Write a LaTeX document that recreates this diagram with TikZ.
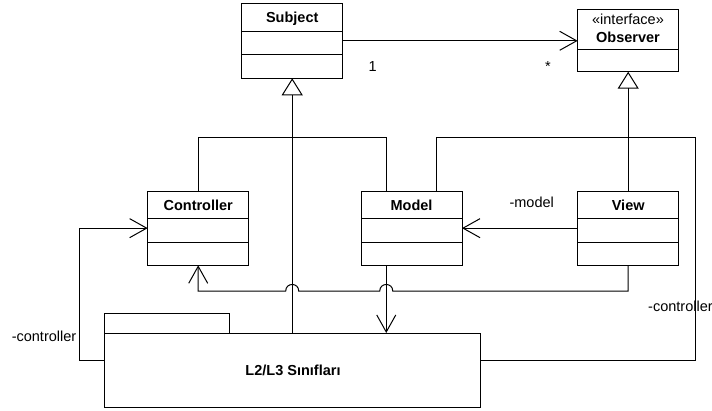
\documentclass[tikz,border=0pt]{standalone}
\usepackage{fontspec}
\setmainfont{Liberation Sans}
\usetikzlibrary{arrows.meta,calc}
\begin{document}
\begin{tikzpicture}[x=1pt,y=-1pt,line width=1pt,
  box/.style={draw,minimum width=101pt,inner sep=0pt,outer sep=0pt},
  lbl/.style={font=\fontsize{14.5}{17}\selectfont,inner sep=0pt,anchor=base},
  ttl/.style={font=\bfseries\fontsize{14.5}{17}\selectfont,inner sep=0pt,anchor=base},
  nav/.style={-{Straight Barb[length=17pt,width=19pt]}},
  inh/.style={-{Triangle[open,length=17pt,width=21pt]}},
]
\useasboundingbox (0,0) rectangle (712,410);
% classes
\node[box,minimum height=75pt] (subj) at (292.2,40.8) {};
\draw (subj.west |- 0,31) -- (subj.east |- 0,31);
\draw (subj.west |- 0,54) -- (subj.east |- 0,54);
\node[ttl] (subjT) at (292.2,22.7) {Subject};

\node[box,minimum height=62.7pt,minimum width=100.6pt] (obs) at (628,40.35) {};
\draw (obs.west |- 0,49) -- (obs.east |- 0,49);
\node[lbl] (obsS) at (628,24) {«interface»};
\node[ttl] (obsT) at (628,42.7) {Observer};

\node[box,minimum height=74.3pt] (ctrl) at (198.2,228.15) {};
\node[box,minimum height=74.3pt] (mdl) at (411.5,228.15) {};
\node[box,minimum height=74.3pt] (view) at (628.2,228.15) {};
\foreach \n in {ctrl,mdl,view}{
  \draw (\n.west |- 0,218) -- (\n.east |- 0,218);
  \draw (\n.west |- 0,242.3) -- (\n.east |- 0,242.3);
}
\node[ttl] (ctrlT) at (198.2,210) {Controller};
\node[ttl] (mdlT) at (411.5,210) {Model};
\node[ttl] (viewT) at (628.2,210) {View};

% package
\node[draw,minimum width=125pt,minimum height=20pt,inner sep=0pt,outer sep=0pt] (tab) at (167,323) {};
\node[draw,minimum width=376pt,minimum height=74pt,inner sep=0pt,outer sep=0pt] (pkg) at (292.5,370) {};
\node[ttl] (pkgT) at (293,375) {L2/L3 Sınıfları};

% coordinates
\coordinate (mx) at ($(mdl.north west)!0.25!(mdl.north east)$);
\coordinate (mx2) at ($(mdl.north west)!0.75!(mdl.north east)$);
\coordinate (bus) at (292.2,137.3);
\coordinate (pkgL) at ($(pkg.north west)+(0,27)$);
\coordinate (pkgR) at ($(pkg.north east)+(0,27)$);

% association Subject -> Observer
\draw[nav] (subj.east) -- (subj.east -| obs.west);
\node[lbl] (one) at (372.7,71) {1};
\node[lbl] (star) at (548,71) {*};

% generalizations
\draw[inh] (subj.south |- pkg.north) -- (subj.south);
\draw (ctrl.north) |- (bus) -| (mx);
\draw[inh] (view.north) -- (view.north |- obs.south);

% Model / L2L3 association on the right
\draw (mx2) -- (mx2 |- bus) -- (695.5,137.3) -- (695.5,360) -- (pkgR);
\node[lbl,anchor=base west] (rc) at (647.7,311) {-controller};

% L2L3 -> Controller on the left
\draw[nav] (pkgL) -- (79,360) |- (ctrl.west);
\node[lbl] (lc) at (44,341.7) {-controller};

% View -> Model
\draw[nav] (view.west) -- (mdl.east);
\node[lbl] (ml) at (531.7,207.3) {-model};

% Model -> L2L3
\draw[nav] (mx |- mdl.south) -- (mx |- pkg.north);

% View -> Controller with jumps
\draw[nav] (view.south) -- (628.2,291) -- (392.75,291)
  .. controls (392.75,282.3) and (379.75,282.3) .. (379.75,291)
  -- (298.7,291)
  .. controls (298.7,282.3) and (285.7,282.3) .. (285.7,291)
  -- (198.2,291) -- (ctrl.south);
\end{tikzpicture}
\end{document}
